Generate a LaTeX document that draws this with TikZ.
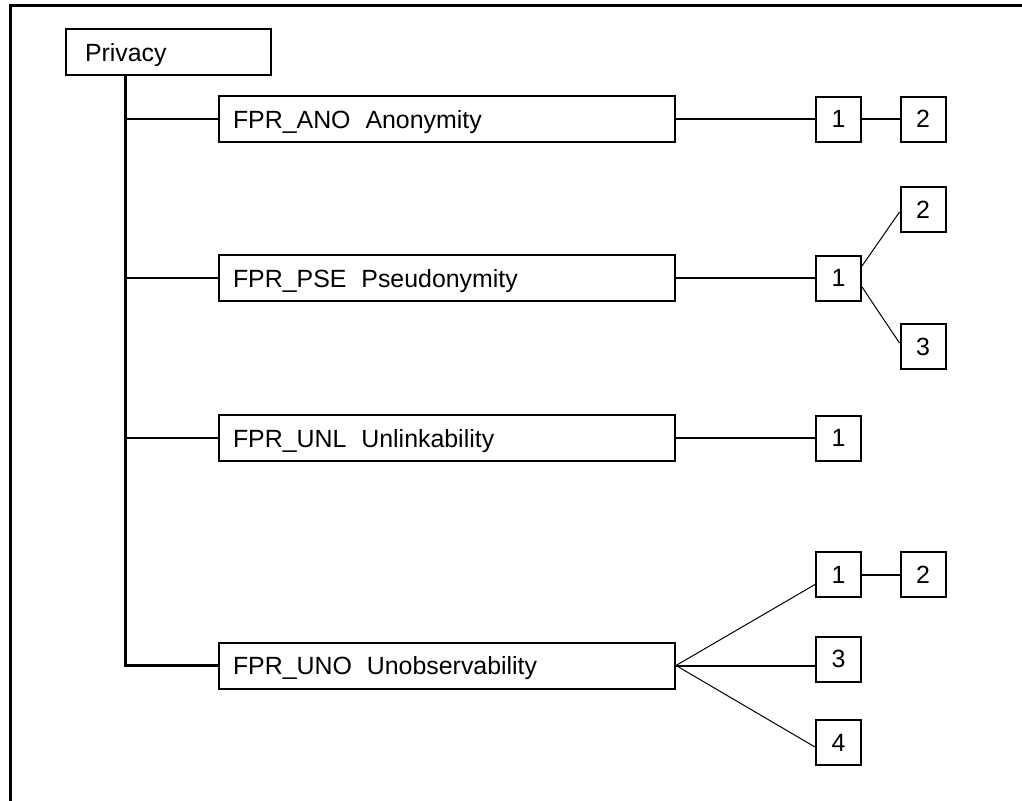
\documentclass[tikz,border=0pt]{standalone}
\usepackage{fontspec}
\setmainfont{Liberation Sans}
\usepackage{tikz}
\usetikzlibrary{calc}

\begin{document}
\begin{tikzpicture}[x=1pt,y=-1pt,
	font=\fontsize{24.9}{29}\selectfont,
	box/.style={draw,line width=2pt,inner ysep=0pt,minimum height=46pt,anchor=west,
		text height=18pt,text depth=0pt},
	famly/.style={box,inner xsep=14pt,text width=428pt},
	comp/.style={draw,line width=2pt,inner sep=0pt,minimum size=45pt},
	link/.style={line width=2pt},
	thin/.style={line width=1pt}]
	\useasboundingbox (0,0) rectangle (1022,800);
	\draw[line width=3pt] (1030,6) -- (10.5,6) -- (10.5,810);

	\node[box,inner xsep=19pt,text width=167pt] (priv) at (65,52) {Privacy};
	\node[famly] (ano) at (218,119) {FPR\_ANO\hspace{0.6em}Anonymity};
	\node[famly] (pse) at (218,278) {FPR\_PSE\hspace{0.6em}Pseudonymity};
	\node[famly] (unl) at (218,438) {FPR\_UNL\hspace{0.6em}Unlinkability};
	\node[famly] (uno) at (218,665.5) {FPR\_UNO\hspace{0.6em}Unobservability};

	\node[comp] (a1) at (838.5,119) {1};
	\node[comp] (a2) at (923,119) {2};
	\node[comp] (p1) at (838.5,278) {1};
	\node[comp] (p2) at (923,209.5) {2};
	\node[comp] (p3) at (923,346.5) {3};
	\node[comp] (l1) at (838.5,438) {1};
	\node[comp] (u1) at (838.5,574.5) {1};
	\node[comp] (u2) at (923,574.5) {2};
	\node[comp] (u3) at (838.5,659) {3};
	\node[comp] (u4) at (838.5,742.5) {4};

	% trunk
	\coordinate (top) at (priv.south -| 125,0);
	\draw[line width=3pt] (top) -- (top |- uno.west) -- (uno.west);
	\draw[link] (top |- ano.west) -- (ano.west);
	\draw[link] (top |- pse.west) -- (pse.west);
	\draw[link] (top |- unl.west) -- (unl.west);

	\draw[link] (ano.east) -- (a1.west);
	\draw[link] (a1.east) -- (a2.west);
	\draw[link] (pse.east) -- (p1.west);
	\draw[thin] ([yshift=12pt]p1.east) -- ([yshift=-2.5pt]p2.west);
	\draw[thin] ([yshift=-9pt]p1.east) -- ([yshift=3.5pt]p3.west);
	\draw[link] (unl.east) -- (l1.west);
	\draw[thin] (uno.east) -- ([yshift=-10pt]u1.west);
	\draw[link] (uno.east) -- (uno.east -| u3.west);
	\draw[thin] (uno.east) -- ([yshift=-4.5pt]u4.west);
	\draw[link] (u1.east) -- (u2.west);
\end{tikzpicture}
\end{document}
